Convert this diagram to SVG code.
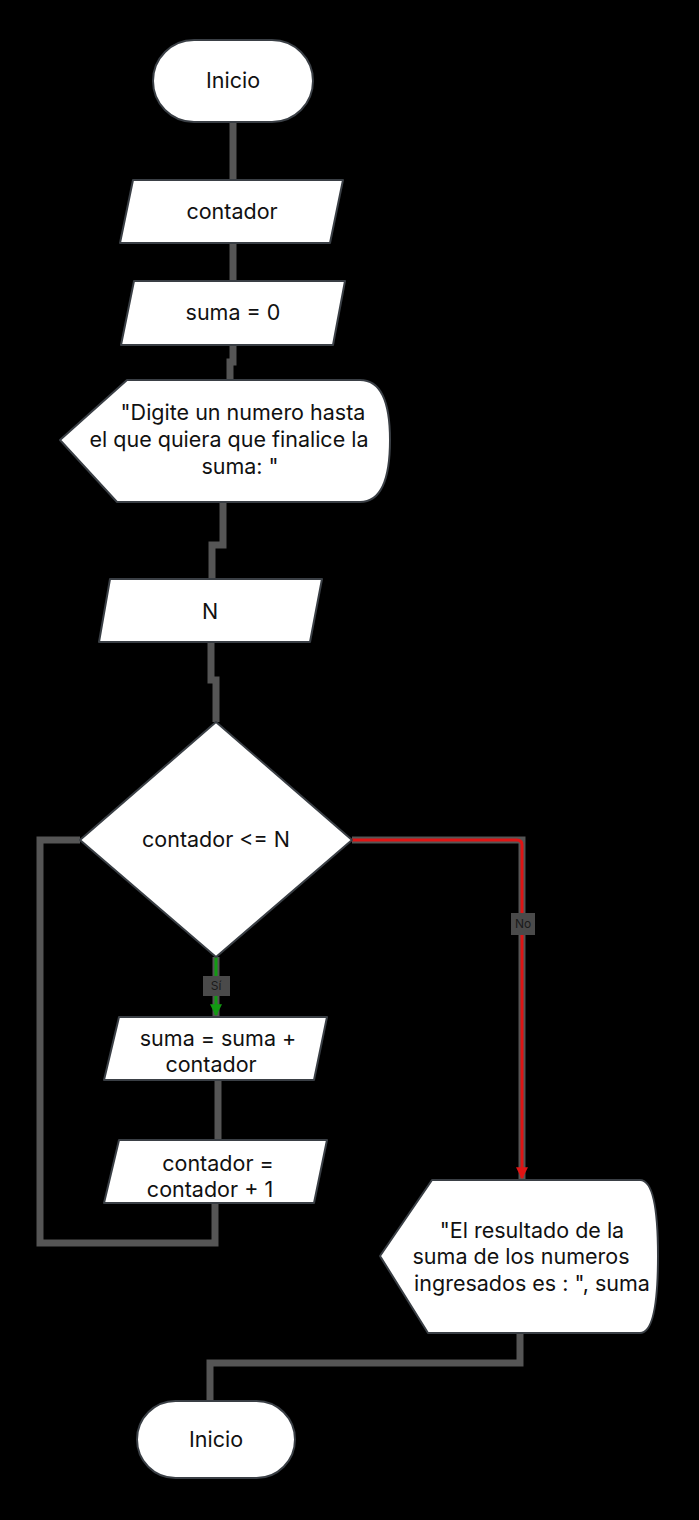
<svg xmlns="http://www.w3.org/2000/svg" width="699" height="1520" viewBox="0 0 699 1520">
<defs>
<style>
.node{fill:#ffffff;stroke:#3a3f45;stroke-width:2;stroke-linejoin:round}
.t{font-family:Inter,"Liberation Sans",sans-serif;font-size:21.5px;fill:#111;text-anchor:middle}
.c{fill:none;stroke:#555555;stroke-width:7}
.red{fill:none;stroke:#e01414;stroke-width:3}
.green{fill:none;stroke:#129a12;stroke-width:3}
.lblbg{fill:#4a4a4a}
.lbl{font-family:Inter,"Liberation Sans",sans-serif;font-size:12px;fill:#1a1a1a;text-anchor:middle}
</style>
<marker id="ar" viewBox="0 0 10 10" refX="9" refY="5" markerWidth="4" markerHeight="4" orient="auto" markerUnits="strokeWidth"><path d="M0,0 L10,5 L0,10 z" fill="#e01414"/></marker>
<marker id="ag" viewBox="0 0 10 10" refX="9" refY="5" markerWidth="4" markerHeight="4" orient="auto" markerUnits="strokeWidth"><path d="M0,0 L10,5 L0,10 z" fill="#129a12"/></marker>
</defs>
<rect x="0" y="0" width="699" height="1520" fill="#000"/>
<g id="connectors">
<path class="c" d="M233 122 V180"/>
<path class="c" d="M233 243 V281"/>
<path class="c" d="M233 345 V362 H230 V380"/>
<path class="c" d="M223 502 V545 H212 V579"/>
<path class="c" d="M211 642 V680 H216 V722"/>
<path class="c" d="M216 957 V1017"/>
<path class="c" d="M218 1080 V1140"/>
<path class="c" d="M215 1204 V1243 H40 V840 H80"/>
<path class="c" d="M352 840 H522 V1180"/>
<path class="c" d="M520 1333 V1363 H210 V1400"/>
<path class="red" d="M352 840 H517 Q522 840 522 845 V1178" marker-end="url(#ar)"/>
<path class="green" d="M216 957 V1015" marker-end="url(#ag)"/>
<rect class="lblbg" x="511" y="913" width="24" height="22"/>
<text class="lbl" x="523" y="928">No</text>
<rect class="lblbg" x="203" y="976" width="27" height="20"/>
<text class="lbl" x="216" y="990">Sí</text>
</g>
<g id="inicio">
<rect class="node" x="153" y="40" width="160" height="82" rx="41"/>
<text class="t" x="233" y="88">Inicio</text>
</g>
<g id="contador">
<path class="node" d="M133 180 H343 L330 243 H120 Z"/>
<text class="t" x="232" y="219">contador</text>
</g>
<g id="suma0">
<path class="node" d="M134 281 H345 L333 345 H121 Z"/>
<text class="t" x="233" y="320">suma = 0</text>
</g>
<g id="mensaje1">
<path class="node" d="M127 380 H360 Q390 380 390 440 Q390 502 360 502 H117 L60 440 Z"/>
<text class="t" x="243" y="420">"Digite un numero hasta</text>
<text class="t" x="229" y="447">el que quiera que finalice la</text>
<text class="t" x="240" y="474">suma: "</text>
</g>
<g id="leerN">
<path class="node" d="M110 579 H322 L310 642 H99 Z"/>
<text class="t" x="210" y="619">N</text>
</g>
<g id="decision">
<path class="node" d="M216 722 L352 840 L216 957 L80 840 Z"/>
<text class="t" x="216" y="847">contador &lt;= N</text>
</g>
<g id="sumaMas">
<path class="node" d="M119 1017 H327 L314 1080 H104 Z"/>
<text class="t" x="218" y="1046">suma = suma +</text>
<text class="t" x="211" y="1072">contador</text>
</g>
<g id="incremento">
<path class="node" d="M119 1140 H327 L314 1203 H104 Z"/>
<text class="t" x="218" y="1171">contador =</text>
<text class="t" x="210" y="1197">contador + 1</text>
</g>
<g id="mensaje2">
<path class="node" d="M432 1180 H640 Q658 1180 658 1256 Q658 1333 640 1333 H428 L380 1256 Z"/>
<text class="t" x="532" y="1238">"El resultado de la</text>
<text class="t" x="521" y="1264">suma de los numeros</text>
<text class="t" x="532" y="1291">ingresados es : ", suma</text>
</g>
<g id="fin">
<rect class="node" x="137" y="1401" width="158" height="77" rx="38.5"/>
<text class="t" x="216" y="1447">Inicio</text>
</g>
</svg>
